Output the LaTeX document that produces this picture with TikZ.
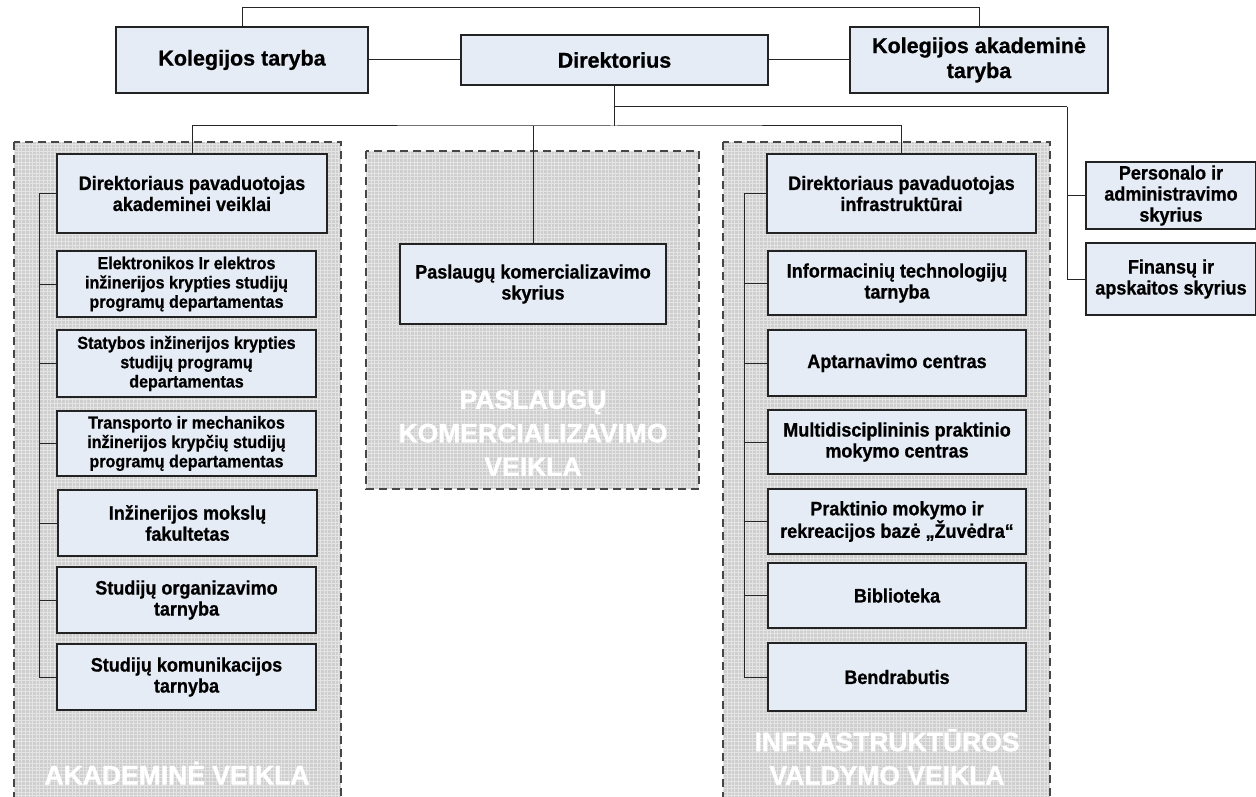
\documentclass[tikz,border=0pt]{standalone}
\usepackage{fontspec}
\setmainfont{Liberation Sans}
\newfontfamily\boxfont[FakeStretch=0.925,FakeBold=0.8]{Liberation Sans}
\newfontfamily\topfont[FakeBold=0.8]{Liberation Sans}
\newfontfamily\labelfont[FakeBold=1.2]{Liberation Sans}
\definecolor{boxfill}{RGB}{230,236,246}
\definecolor{boxline}{RGB}{35,35,35}
\definecolor{regfill}{RGB}{206,206,206}
\definecolor{dashgray}{RGB}{70,70,70}
\begin{document}
\begin{tikzpicture}[x=1pt,y=-1pt,
  box/.style={draw=boxline, line width=1.2pt, fill=boxfill, inner sep=0pt, outer sep=0pt, align=center, font=\boxfont\bfseries\fontsize{19.5}{21}\selectfont},
  bigbox/.style={box, font=\topfont\bfseries\fontsize{21.5}{25}\selectfont},
  smallbox/.style={box, font=\boxfont\bfseries\fontsize{17.4}{19.3}\selectfont},
  regborder/.style={draw=dashgray, line width=1.5pt, dash pattern=on 8pt off 5pt},
  conn/.style={draw=black!85, line width=1pt},
  reglabel/.style={text=white, align=center, inner sep=0pt, font=\labelfont\bfseries\fontsize{26.5}{33.5}\selectfont}
]
\useasboundingbox (0,0) rectangle (1256,797);

% regions
\foreach \xa/\ya/\xb/\yb in {14/142/341/806, 366/151/699/489, 723/142/1050/806}{
  \fill[regfill] (\xa,\ya) rectangle (\xb,\yb);
  \begin{scope}
    \clip (\xa,\ya) rectangle (\xb,\yb);
    \draw[white, line width=0.6pt, opacity=0.45, step=3.6pt] (\xa,\ya) grid (\xb,\yb);
  \end{scope}
  \draw[regborder] (\xa,\ya) rectangle (\xb,\yb);
}

% region labels
\node[reglabel] (lblA) at (177,773) {AKADEMINĖ VEIKLA};
\node[reglabel] (lblP) at (533,433) {PASLAUGŲ\\KOMERCIALIZAVIMO\\VEIKLA};
\node[reglabel] (lblI) at (887,757) {INFRASTRUKTŪROS\\VALDYMO VEIKLA};

% top boxes
\node[bigbox, minimum width=252pt, minimum height=66pt] (kt) at (242,60) {Kolegijos taryba};
\node[bigbox, minimum width=307pt, minimum height=50pt] (dir) at (614.5,60) {Direktorius};
\node[bigbox, minimum width=258pt, minimum height=66pt] (kat) at (979,60) {Kolegijos akademinė\\taryba};

% right side boxes
\node[box, minimum width=170pt, minimum height=67pt] (pers) at (1171,195.5) {Personalo ir\\administravimo\\skyrius};
\node[box, minimum width=170pt, minimum height=72pt] (fin) at (1171,279) {Finansų ir\\apskaitos skyrius};

% left column
\node[box, minimum width=270pt, minimum height=79pt] (dpa) at (192,193.5) {Direktoriaus pavaduotojas\\akademinei veiklai};
\node[smallbox, minimum width=259pt, minimum height=66pt] (el) at (186.5,284) {Elektronikos Ir elektros\\inžinerijos krypties studijų\\programų departamentas};
\node[smallbox, minimum width=259pt, minimum height=67pt] (st) at (186.5,363.5) {Statybos inžinerijos krypties\\studijų programų\\departamentas};
\node[smallbox, minimum width=259pt, minimum height=65pt] (tr) at (186.5,443.5) {Transporto ir mechanikos\\inžinerijos krypčių studijų\\programų departamentas};
\node[box, minimum width=259pt, minimum height=66pt] (inz) at (187.5,523) {Inžinerijos mokslų\\fakultetas};
\node[box, minimum width=259pt, minimum height=66pt] (org) at (186.5,600) {Studijų organizavimo\\tarnyba};
\node[box, minimum width=259pt, minimum height=66pt] (kom) at (186.5,677) {Studijų komunikacijos\\tarnyba};

% middle
\node[box, minimum width=266pt, minimum height=80pt] (psk) at (533,284) {Paslaugų komercializavimo\\skyrius};

% right column
\node[box, minimum width=269pt, minimum height=79pt] (dpi) at (901.5,193.5) {Direktoriaus pavaduotojas\\infrastruktūrai};
\node[box, minimum width=258pt, minimum height=64pt] (it) at (897,283) {Informacinių technologijų\\tarnyba};
\node[box, minimum width=258pt, minimum height=66pt] (apt) at (897,363) {Aptarnavimo centras};
\node[box, minimum width=258pt, minimum height=64pt] (mul) at (897,442) {Multidisciplininis praktinio\\mokymo centras};
\node[box, minimum width=258pt, minimum height=65pt] (pra) at (897,521.5) {Praktinio mokymo ir\\rekreacijos bazė „Žuvėdra“};
\node[box, minimum width=258pt, minimum height=65pt] (bib) at (897,595.5) {Biblioteka};
\node[box, minimum width=258pt, minimum height=68pt] (ben) at (897,677) {Bendrabutis};

% connector coordinates
\coordinate (topy) at (0,8);
\coordinate (busy) at (0,126);
\coordinate (rb) at (1067,107);
\coordinate (lb) at (39,193.5);
\coordinate (rbus) at (744,193.5);

% connectors
\draw[conn] (kt.north) |- (topy -| kat.north) -- (kat.north);
\draw[conn] (kt.east) -- (dir.west);
\draw[conn] (dir.east) -- (kat.west);
\draw[conn] (dir.south) -- (dir.south |- busy);
\draw[conn] (dpa.north) |- (busy -| dir.south) -| (dpi.north);
\draw[conn] (psk.north) -- (psk.north |- busy);
\draw[conn] (dir.south |- rb) -- (rb);
\draw[conn] (rb) |- (pers.west);
\draw[conn] (rb) |- (fin.west);

\draw[conn] (dpa.west) -- (lb);
\foreach \n in {el,st,tr,inz,org,kom}{
  \draw[conn] (lb) |- (\n.west);
}
\draw[conn] (dpi.west) -- (rbus);
\foreach \n in {it,apt,mul,pra,bib,ben}{
  \draw[conn] (rbus) |- (\n.west);
}
\end{tikzpicture}
\end{document}
